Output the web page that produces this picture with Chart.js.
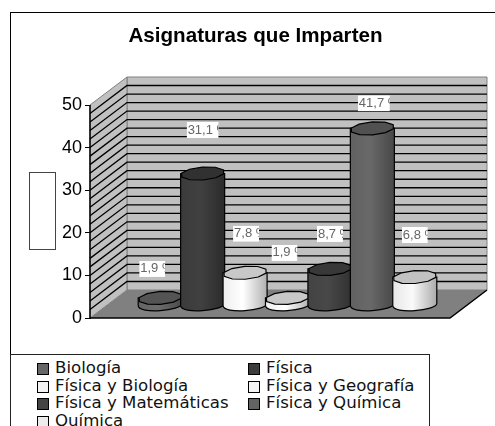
<!DOCTYPE html>
<html>
<head>
<meta charset="utf-8">
<script src="https://cdn.jsdelivr.net/npm/chart.js@4"></script>
<style>
    html, body { margin: 0; padding: 0; background: #fff; overflow: hidden; }
    #wrap { position: relative; width: 495px; height: 426px; overflow: hidden; }
    #chart { position: absolute; left: 0; top: 0; }
    #frame { position: absolute; left: 10px; top: 12px; width: 490px; height: 420px; border: 1px solid #000; }
    #axisBox { position: absolute; left: 29px; top: 172px; width: 25px; height: 76px; border: 1px solid #444; background: #fff; }
    #legend { position: absolute; left: 10px; top: 354px; width: 418px; height: 90px; border: 1px solid #222; background: #fff;
        font: 16.6px "DejaVu Sans", sans-serif; color: #111; }
    .item { position: absolute; line-height: 18px; white-space: nowrap; padding-left: 18px; }
    .item i { position: absolute; left: 0; top: 4px; width: 10px; height: 10px; border: 1px solid #000; }
</style>
</head>
<body>
<div id="wrap">
    <div id="frame"></div>
    <canvas id="chart" width="495" height="426"></canvas>
    <div id="axisBox"></div>
    <div id="legend"></div>
</div>
<script>
// Datos
const asignaturas = ['Biología', 'Física', 'Física y Biología', 'Física y Geografía', 'Física y Matemáticas', 'Física y Química', 'Química'];
const porcentajes = [1.9, 31.1, 7.8, 1.9, 8.7, 41.7, 6.8];
const etiquetas = ['1,9 %', '31,1 %', '7,8 %', '1,9 %', '8,7 %', '41,7 %', '6,8 %'];
const colores = ['#666666', '#3c3c3c', '#f4f4f4', '#f4f4f4', '#444444', '#636363', '#ececec'];
const lineasGuia = [2, 4, 6, 8, 10, 12, 14, 16, 18, 20, 22, 24, 26, 28, 30, 32, 34, 36, 38, 40, 42, 44, 46, 48];

// Ajustes del efecto 3D y de las etiquetas
const fondoX = 37, fondoY = 28;
const despX = 17.5, despY = 12;
const etiquetaDx = [-8, 0, 1, -3, 0, 1.5, 0];
const etiquetaDy = [-29, -43.5, -39, -45, -35, -25, -42];

function aclarar(hex, k) {
    const n = parseInt(hex.slice(1), 16);
    const f = c => Math.max(0, Math.min(255, Math.round(c * k)));
    return `rgb(${f(n >> 16)},${f((n >> 8) & 255)},${f(n & 255)})`;
}

// Paredes y suelo
const paredes = {
    id: 'paredes',
    beforeDatasetsDraw(chart) {
        const { ctx, chartArea: a, scales: { y } } = chart;
        const b = a.bottom, t = a.top, l = a.left, r = a.right;
        ctx.save();
        ctx.fillStyle = '#c0c0c0';
        ctx.strokeStyle = '#808080';
        ctx.lineWidth = 1;
        ctx.beginPath();
        ctx.rect(l + fondoX, t - fondoY, r - l, b - t);
        ctx.fill();
        ctx.stroke();
        ctx.beginPath();
        ctx.moveTo(l, t); ctx.lineTo(l + fondoX, t - fondoY);
        ctx.lineTo(l + fondoX, b - fondoY); ctx.lineTo(l, b);
        ctx.closePath();
        ctx.fill();
        ctx.stroke();
        ctx.fillStyle = '#808080';
        ctx.beginPath();
        ctx.moveTo(l, b); ctx.lineTo(l + fondoX, b - fondoY);
        ctx.lineTo(r + fondoX, b - fondoY); ctx.lineTo(r, b);
        ctx.closePath();
        ctx.fill();
        ctx.strokeStyle = '#000';
        ctx.lineWidth = 1.3;
        lineasGuia.forEach(v => {
            const py = y.getPixelForValue(v);
            ctx.beginPath();
            ctx.moveTo(l, py);
            ctx.lineTo(l + fondoX, py - fondoY);
            ctx.lineTo(r + fondoX, py - fondoY);
            ctx.stroke();
        });
        ctx.lineWidth = 1.5;
        ctx.beginPath();
        ctx.moveTo(l, t); ctx.lineTo(l, b); ctx.lineTo(r, b); ctx.lineTo(r + fondoX, b - fondoY);
        ctx.stroke();
        ctx.restore();
    }
};

// Tapa un poco poligonal, como el original
function tapa(ctx, cx, cy, rx, ry) {
    const pasos = 10;
    ctx.beginPath();
    for (let i = 0; i < pasos; i++) {
        const ang = (i / pasos) * Math.PI * 2 + 0.3;
        const px = cx + rx * Math.cos(ang);
        const py = cy + ry * Math.sin(ang) - 0.25 * (rx * Math.cos(ang)) * (ry / rx);
        if (i === 0) ctx.moveTo(px, py); else ctx.lineTo(px, py);
    }
    ctx.closePath();
}

function cilindro(ctx, el, color) {
    const rx = el.width / 2 + 0.8, ry = 6.5;
    const cx = el.x + despX, top = el.y - despY, base = el.base - despY;
    const g = ctx.createLinearGradient(cx - rx, 0, cx + rx, 0);
    g.addColorStop(0, aclarar(color, 0.98));
    g.addColorStop(0.45, aclarar(color, 1.06));
    g.addColorStop(1, aclarar(color, 0.72));
    ctx.fillStyle = g;
    ctx.strokeStyle = '#000';
    ctx.lineWidth = 1.2;
    ctx.beginPath();
    ctx.moveTo(cx - rx, top);
    ctx.lineTo(cx - rx, base);
    ctx.bezierCurveTo(cx - rx, base + ry * 1.4, cx + rx, base + ry * 0.8, cx + rx, base - 2);
    ctx.lineTo(cx + rx, top);
    ctx.closePath();
    ctx.fill();
    ctx.stroke();
    tapa(ctx, cx, top, rx, ry);
    ctx.fillStyle = aclarar(color, 0.82);
    ctx.fill();
    ctx.stroke();
}

// Cilindros de izquierda a derecha y despues las etiquetas
const cilindros = {
    id: 'cilindros',
    afterDatasetsDraw(chart) {
        const { ctx } = chart;
        ctx.save();
        chart.data.datasets.forEach((ds, i) => {
            cilindro(ctx, chart.getDatasetMeta(i).data[0], colores[i]);
        });
        ctx.font = '13px "Liberation Sans"';
        ctx.textBaseline = 'middle';
        chart.data.datasets.forEach((ds, i) => {
            const el = chart.getDatasetMeta(i).data[0];
            const w = etiquetas[i].length === 6 ? 32 : 26, h = 16;
            const x = el.x + despX + etiquetaDx[i] - w / 2;
            const y = el.y - despY + etiquetaDy[i] - h / 2;
            ctx.save();
            ctx.beginPath();
            ctx.rect(x, y, w, h);
            ctx.clip();
            ctx.fillStyle = '#fff';
            ctx.fillRect(x, y, w, h);
            ctx.fillStyle = '#666';
            ctx.fillText(etiquetas[i], x + 1, y + h / 2);
            ctx.restore();
        });
        ctx.restore();
    }
};

new Chart(document.getElementById('chart'), {
    type: 'bar',
    data: {
        labels: [''],
        datasets: asignaturas.map((nombre, i) => ({
            label: nombre,
            data: [porcentajes[i]],
            backgroundColor: 'transparent',
            borderWidth: 0
        }))
    },
    options: {
        responsive: false,
        animation: false,
        layout: { padding: { left: 0, right: 45, top: 105, bottom: 108 } },
        plugins: {
            legend: { display: false },
            tooltip: { enabled: false },
            title: {
                display: false
            }
        },
        datasets: { bar: { categoryPercentage: 0.825, barPercentage: 1 } },
        scales: {
            x: { display: false },
            y: {
                min: 0,
                max: 50,
                afterFit(s) { s.width = 90; },
                ticks: { stepSize: 10, color: '#000', padding: 3, font: { size: 18, family: '"Liberation Sans"' } },
                grid: { drawOnChartArea: false, color: '#000', tickLength: 5, lineWidth: 1 },
                border: { color: '#000' }
            }
        }
    },
    plugins: [paredes, cilindros, {
        id: 'titulo',
        afterDraw(chart) {
            const { ctx } = chart;
            ctx.save();
            ctx.font = 'bold 20.6px "Liberation Sans"';
            ctx.textAlign = 'center';
            ctx.textBaseline = 'middle';
            ctx.fillStyle = '#000';
            ctx.fillText('Asignaturas que Imparten', 255.5, 36.5);
            ctx.restore();
        }
    }]
});

// Leyenda en dos columnas, cortada por el borde inferior igual que el original
const leyenda = document.getElementById('legend');
asignaturas.forEach((nombre, i) => {
    const d = document.createElement('div');
    d.className = 'item';
    d.style.left = (i % 2 ? 237 : 26) + 'px';
    d.style.top = (4 + Math.floor(i / 2) * 17.7) + 'px';
    d.innerHTML = `<i style="background:${colores[i]}"></i>${nombre}`;
    leyenda.appendChild(d);
});
</script>
</body>
</html>
